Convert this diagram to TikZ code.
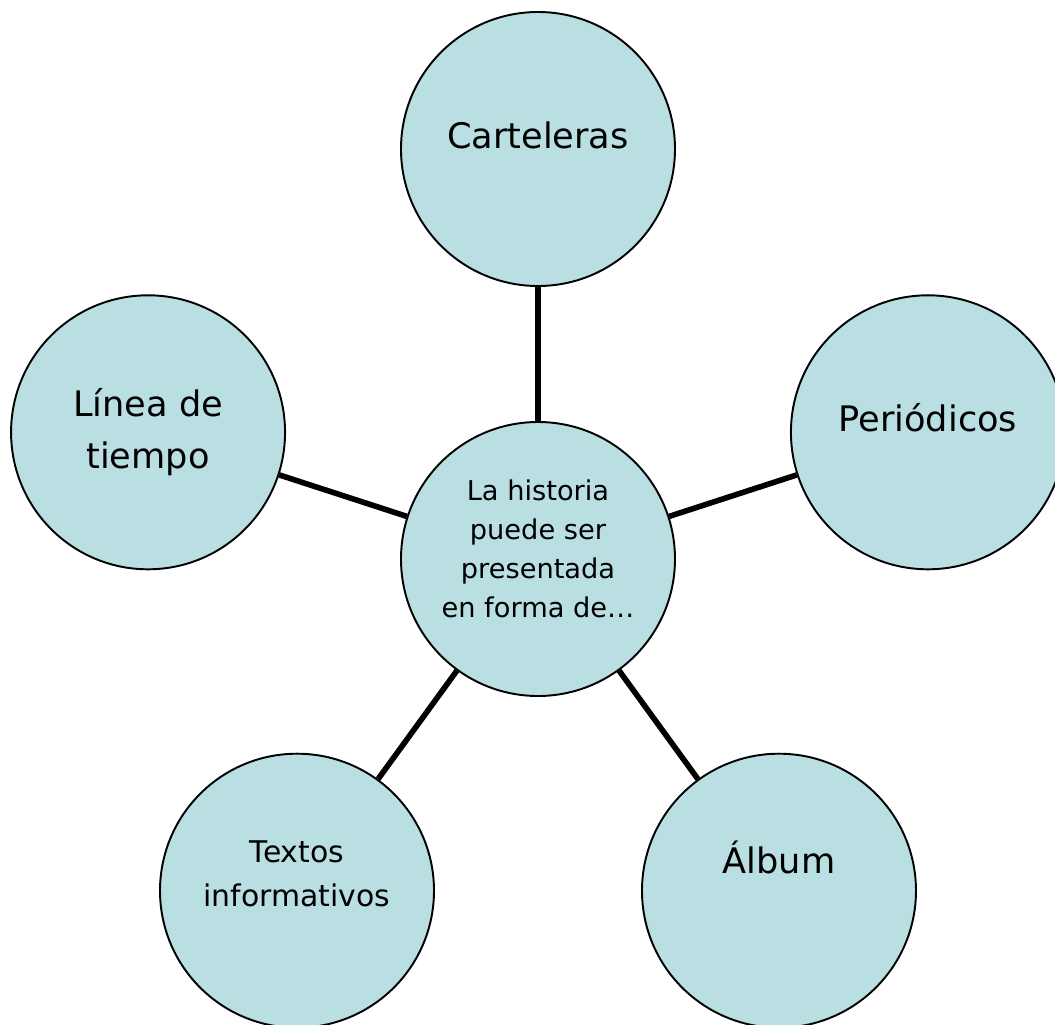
\documentclass[tikz,border=0pt]{standalone}
\usepackage{fontspec}
\setmainfont{DejaVu Sans}
\definecolor{bubblecol}{RGB}{186,223,227}

\begin{document}
\begin{tikzpicture}[
  bubble/.style = {shape=circle, draw, line width=1.1pt, fill=bubblecol,
    minimum size=5.48cm, inner sep=0pt},
  spoke/.style = {line width=3.2pt},
  bigtxt/.style = {align=center, font=\fontsize{20}{29.5}\selectfont},
  midtxt/.style = {align=center, font=\fontsize{17}{25}\selectfont},
  smalltxt/.style = {align=center, font=\fontsize{15.5}{22.2}\selectfont}]
  \useasboundingbox (-10.76,-9.3) rectangle (10.34,11.18);
  \clip (-10.76,-9.3) rectangle (10.34,11.18);
  % circles, centre one and the five round it
  \node[bubble] (hist) at (0,0) {};
  \node[bubble] (cart) at (90:8.2) {};
  \node[bubble] (peri) at (18:8.2) {};
  \node[bubble] (linea) at (162:8.2) {};
  \node[bubble] (textos) at (234:8.2) {};
  \node[bubble] (album) at (306:8.2) {};
  \foreach \n in {cart, peri, linea, textos, album}
    \draw[spoke] (hist) -- (\n);
  % texts
  \node[smalltxt] (hist-t) at ([yshift=2mm]hist) {La historia\\puede ser\\presentada\\en forma de\ldots};
  \node[bigtxt] (cart-t) at ([yshift=2.8mm]cart) {Carteleras};
  \node[bigtxt] (peri-t) at ([yshift=3mm]peri) {Periódicos};
  \node[bigtxt] (linea-t) at (linea) {Línea de\\tiempo};
  \node[midtxt] (textos-t) at ([yshift=3.4mm]textos) {Textos\\informativos};
  \node[bigtxt] (album-t) at ([yshift=6.6mm]album) {Álbum};
\end{tikzpicture}
\end{document}
